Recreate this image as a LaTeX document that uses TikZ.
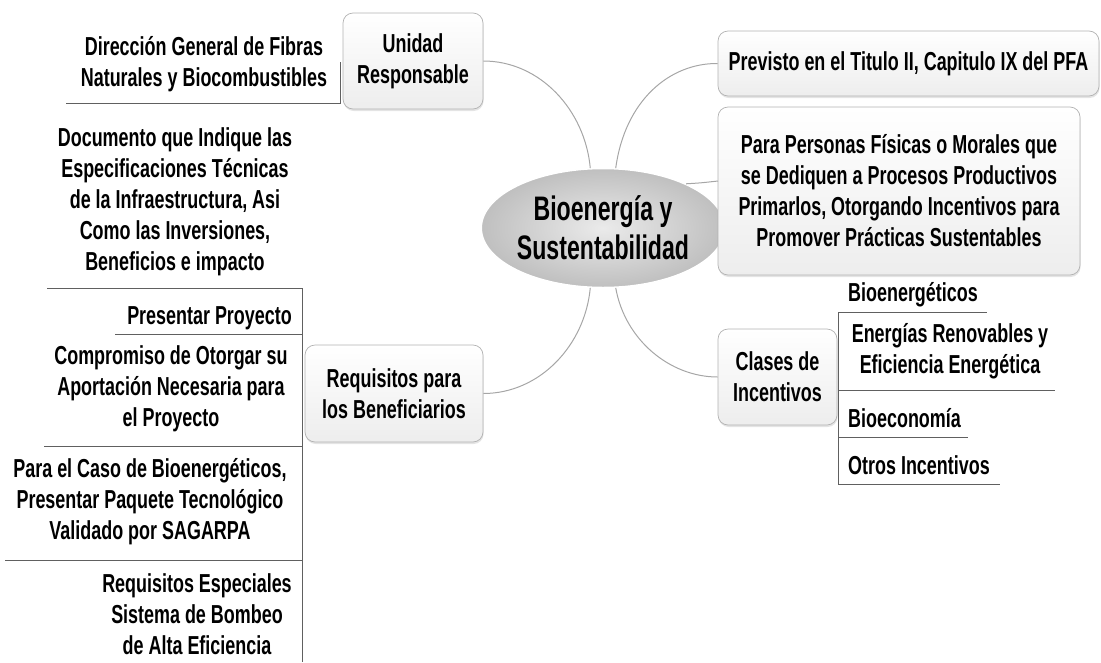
\documentclass[tikz,border=0pt]{standalone}
\usepackage{fontspec}
\setmainfont{Liberation Sans}[FakeStretch=0.69]
\newfontfamily\mmbigfam{Liberation Sans}[FakeStretch=0.68]
\usetikzlibrary{shapes.geometric,shadows}
\newcommand\mmfont{\fontsize{26}{31}\selectfont\bfseries}
\newcommand\mmbig{\mmbigfam\fontsize{34}{39}\selectfont\bfseries}
\begin{document}
\begin{tikzpicture}[x=1pt,y=-1pt,
  bx/.style={draw=gray!60, line width=0.7pt, rounded corners=10pt,
    top color=white, bottom color=gray!14,
    drop shadow={opacity=0.35, shadow xshift=0.6pt, shadow yshift=-2pt, fill=gray!60},
    font=\mmfont, align=center, inner sep=0pt},
  lf/.style={font=\mmfont, align=center, inner sep=0pt},
  link/.style={draw=gray!70, line width=1pt},
  rl/.style={draw=gray!75!black, line width=0.9pt}]
\useasboundingbox (0,0) rectangle (1101,662);

% central topic
\node[ellipse, minimum width=218pt, minimum height=119pt, inner color=gray!16,
      outer color=gray!50, draw=white, line width=1.5pt, font=\mmbig, align=center,
      inner sep=0pt] (center) at (603,228) {Bioenergía y\\Sustentabilidad};

% main branches
\node[bx, minimum width=140pt, minimum height=96pt] (unidad) at (413,61) {Unidad\\Responsable};
\node[bx, minimum width=381pt, minimum height=65pt] (previsto) at (908.5,63.5) {Previsto en el Titulo II, Capitulo IX del PFA};
\node[bx, minimum width=362pt, minimum height=168pt] (para) at (899,191) {Para Personas Físicas o Morales que\\se Dediquen a Procesos Productivos\\Primarlos, Otorgando Incentivos para\\Promover Prácticas Sustentables};
\node[bx, minimum width=119pt, minimum height=96pt] (clases) at (777.5,377) {Clases de\\Incentivos};
\node[bx, minimum width=178pt, minimum height=97pt] (req) at (394,393.5) {Requisitos para\\los Beneficiarios};

% connectors from the central topic
\coordinate (pin) at (718,181);
\draw[link] (unidad.east) .. controls (540,61) and (585,110) .. (center.102);
\draw[link] (previsto.west) .. controls (670,63) and (625,100) .. (center.78);
\draw[link] (center.28) .. controls (700,183) .. (pin);
\draw[link] (clases.west) .. controls (670,377) and (625,340) .. (center.-78);
\draw[link] (req.east) .. controls (540,393.5) and (585,345) .. (center.-102);

% leaves of Unidad Responsable
\node[lf] (dir) at (204,64) {Dirección General de Fibras\\Naturales y Biocombustibles};
\coordinate (u1) at (340,62);
\coordinate (u2) at (340,103);
\coordinate (u3) at (66,103);
\draw[rl] (u1) -- (u2) -- (u3);

% leaves of Requisitos
\node[lf] (doc) at (175,202) {Documento que Indique las\\Especificaciones Técnicas\\de la Infraestructura, Asi\\Como las Inversiones,\\Beneficios e impacto};
\node[lf, anchor=east] (pres) at (292,318) {Presentar Proyecto};
\node[lf] (comp) at (171,389) {Compromiso de Otorgar su\\Aportación Necesaria para\\el Proyecto};
\node[lf] (caso) at (150,502) {Para el Caso de Bioenergéticos,\\Presentar Paquete Tecnológico\\Validado por SAGARPA};
\node[lf] (esp) at (197,614) {Requisitos Especiales\\Sistema de Bombeo\\de Alta Eficiencia};
\coordinate (rtop) at (302,288);
\coordinate (rbot) at (302,662);
\coordinate (r1) at (47,288);
\coordinate (r2a) at (302,334);
\coordinate (r2) at (115,334);
\coordinate (r3a) at (302,446);
\coordinate (r3) at (44,446);
\coordinate (r4a) at (302,560);
\coordinate (r4) at (5,560);
\draw[rl] (rtop) -- (rbot);
\draw[rl] (rtop) -- (r1);
\draw[rl] (r2a) -- (r2);
\draw[rl] (r3a) -- (r3);
\draw[rl] (r4a) -- (r4);

% leaves of Clases de Incentivos
\node[lf, anchor=west] (bioe) at (848,295) {Bioenergéticos};
\node[lf] (ener) at (950,351) {Energías Renovables y\\Eficiencia Energética};
\node[lf, anchor=west] (bioc) at (848,418) {Bioeconomía};
\node[lf, anchor=west] (otros) at (848,465) {Otros Incentivos};
\coordinate (ctop) at (838,312);
\coordinate (cbot) at (838,484);
\coordinate (c1) at (987,312);
\coordinate (c2a) at (838,390);
\coordinate (c2) at (1055,390);
\coordinate (c3a) at (838,437);
\coordinate (c3) at (968,437);
\coordinate (c4) at (1000,484);
\draw[rl] (ctop) -- (cbot);
\draw[rl] (ctop) -- (c1);
\draw[rl] (c2a) -- (c2);
\draw[rl] (c3a) -- (c3);
\draw[rl] (cbot) -- (c4);
\end{tikzpicture}
\end{document}
